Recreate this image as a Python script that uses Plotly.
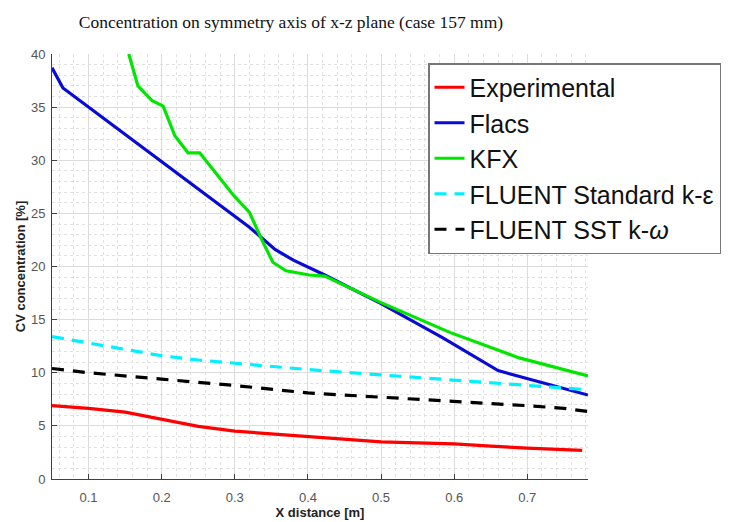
import plotly.graph_objects as go

# ---- data ----
exp_x = [0.05, 0.10, 0.15, 0.20, 0.25, 0.30, 0.35, 0.40, 0.45, 0.50, 0.55, 0.60, 0.65, 0.70, 0.775]
exp_y = [6.9, 6.65, 6.3, 5.6, 4.95, 4.5, 4.25, 4.0, 3.75, 3.5, 3.4, 3.3, 3.1, 2.9, 2.7]

flacs_x = [0.05, 0.065, 0.32, 0.355, 0.38, 0.423, 0.50, 0.584, 0.66, 0.783]
flacs_y = [38.7, 36.8, 23.7, 21.6, 20.6, 19.2, 16.5, 13.3, 10.2, 7.9]

kfx_x = [0.155, 0.1675, 0.187, 0.202, 0.218, 0.236, 0.252, 0.297, 0.320, 0.337, 0.352, 0.37, 0.402, 0.423, 0.50, 0.594, 0.689, 0.783]
kfx_y = [40.0, 37.0, 35.6, 35.1, 32.3, 30.7, 30.7, 26.8, 25.1, 22.5, 20.4, 19.6, 19.2, 19.1, 16.6, 13.8, 11.4, 9.7]

ke_x = [0.05, 0.10, 0.15, 0.20, 0.25, 0.30, 0.40, 0.50, 0.60, 0.70, 0.783]
ke_y = [13.4, 12.8, 12.2, 11.6, 11.2, 10.9, 10.3, 9.8, 9.3, 8.8, 8.4]

kw_x = [0.05, 0.10, 0.20, 0.30, 0.40, 0.50, 0.60, 0.70, 0.75, 0.783]
kw_y = [10.4, 10.0, 9.4, 8.8, 8.1, 7.7, 7.35, 6.9, 6.65, 6.35]

x_ticks = [0.1, 0.2, 0.3, 0.4, 0.5, 0.6, 0.7]
y_ticks = [0, 5, 10, 15, 20, 25, 30, 35, 40]

series = [
    ("Experimental", exp_x, exp_y, "#ff0000", "solid"),
    ("Flacs", flacs_x, flacs_y, "#0a0ad6", "solid"),
    ("KFX", kfx_x, kfx_y, "#00e600", "solid"),
    ("FLUENT Standard k-ε", ke_x, ke_y, "#00f0ff", "12px,8px"),
    ("FLUENT SST k-<i>ω</i>", kw_x, kw_y, "#000000", "12px,9px"),
]

fig = go.Figure()
for name, xs, ys, col, dash in series:
    fig.add_trace(go.Scatter(x=xs, y=ys, mode="lines", name=name,
                             line=dict(color=col, width=3.2, dash=dash)))

axis_common = dict(
    showline=True, linecolor="#404040", linewidth=1, mirror=False,
    ticks="inside", ticklen=5, tickcolor="#404040",
    showgrid=True, gridcolor="#dcdcdc", gridwidth=1,
    tickfont=dict(family="Liberation Sans, Arial", size=13, color="#555555"),
    zeroline=False, automargin=False,
)

fig.update_xaxes(
    range=[0.05, 0.783], tickvals=x_ticks, ticktext=[f"{v:.1f}" for v in x_ticks],
    minor=dict(dtick=0.02, tick0=0.0, showgrid=True, gridcolor="#e0e0e0", griddash="dot", ticks=""),
    title=dict(text="<b>X distance [m]</b>", font=dict(family="Liberation Sans, Arial", size=13, color="#222222"), standoff=2),
    ticklabelstandoff=6,
    **axis_common,
)
fig.update_yaxes(
    range=[0, 40], tickvals=y_ticks,
    minor=dict(dtick=1, showgrid=True, gridcolor="#e0e0e0", griddash="dot", ticks=""),
    title=dict(text="<b>CV concentration [%]</b>", font=dict(family="Liberation Sans, Arial", size=13, color="#222222"), standoff=2),
    ticklabelstandoff=3,
    **axis_common,
)

# the page body adds an 8px offset; the figure is sized to fit the 736x522 window
W, H = 728, 514
fig.update_layout(
    width=W, height=H,
    margin=dict(l=44, r=W - 44 - 536, t=46, b=H - 46 - 425),
    paper_bgcolor="white", plot_bgcolor="white",
    title=dict(text="Concentration on symmetry axis of x-z plane (case 157 mm)",
               font=dict(family="Liberation Serif, Times New Roman", size=17.5, color="#111111"),
               x=283 / W, xanchor="center", xref="container",
               y=1 - 14 / H, yanchor="middle", yref="container"),
    legend=dict(x=(428 - 52) / 536, y=(479 - 63) / 425, xanchor="left", yanchor="top",
                bgcolor="white", bordercolor="#777777", borderwidth=1.5,
                font=dict(family="Liberation Sans, Arial", size=25, color="#111111"),
                itemwidth=30),
    showlegend=True,
)

fig.write_html("out.html")
